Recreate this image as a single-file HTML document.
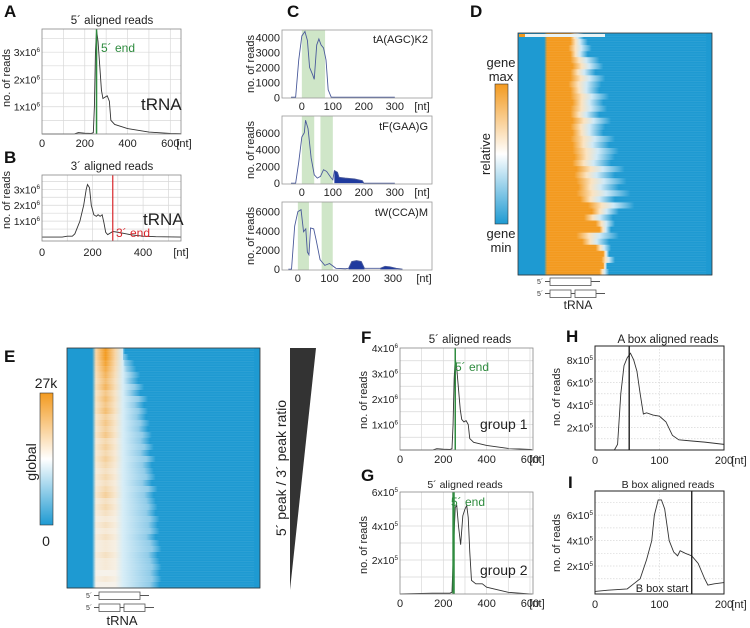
<!DOCTYPE html>
<html><head><meta charset="utf-8"><style>
html,body{margin:0;padding:0;background:#fff}
svg{display:block;font-family:"Liberation Sans",sans-serif}
</style></head><body>
<svg id="fig" width="750" height="628" viewBox="0 0 750 628" xmlns="http://www.w3.org/2000/svg">
<defs>
<linearGradient id="cbar" x1="0" y1="0" x2="0" y2="1">
<stop offset="0" stop-color="#f39a1f"/><stop offset="0.5" stop-color="#ffffff"/><stop offset="1" stop-color="#1e9ad2"/>
</linearGradient>
</defs>
<g id="root"></g>
</svg>
<script>
// ---------- data ----------
const aNt=[0,150,170,200,230,240,245,250,255,262,270,278,285,295,305,315,322,340,400,500,600,650];
const aReads=[0,0,0.05,0.03,0.02,0.05,1.0,3.0,3.8,3.4,2.5,1.6,1.3,1.35,1.4,1.2,0.5,0.35,0.2,0.07,0.02,0.01];
const aEnd=[255];
const bNt=[0,80,100,120,130,150,165,175,180,188,195,205,215,222,230,238,245,252,260,280,300,350,400,450,550];
const bReads=[0,0,0.05,0.05,0.2,1.0,2.0,3.0,3.3,3.1,2.0,1.4,1.3,1.4,1.3,1.4,0.9,0.3,0.15,0.35,0.3,0.15,0.05,0.02,0];
const bEnd=[280];
const c1Nt=[-35,-20,-10,0,10,18,25,35,40,48,55,62,70,78,85,95,300];
const c1Reads=[0,0,2500,4100,4400,3800,2000,1500,1200,3500,3900,3500,3300,2500,500,0,0];
const c1Bands=[[0,75]];
const c2Nt=[-35,-20,-10,0,8,12,20,30,40,50,60,70,80,95,100,105,115,120,140,170,195,200,300];
const c2Reads=[0,0,2500,5500,6000,7500,6500,3000,1000,600,800,1600,1400,600,400,1500,1300,700,600,500,300,0,0];
const c2Bands=[[0,40],[60,100]];
const c2Fill=[[105,200]];
const c3Nt=[-30,-20,-10,0,10,18,25,30,35,40,50,58,70,85,100,120,150,160,170,185,200,210,260,275,290,310,320,330];
const c3Reads=[0,0,4500,6000,6200,3900,4200,1800,1500,4300,4200,3000,1000,400,600,100,50,100,800,900,800,100,100,300,250,100,50,0];
const c3Bands=[[0,35],[75,110]];
const c3Fill=[[155,215],[255,330]];
const fNt=[0,150,170,200,230,240,245,250,255,262,270,278,285,295,305,315,322,340,400,500,600,610];
const fReads=[0,0,0.05,0.03,0.02,0.05,1.0,2.8,3.6,3.2,2.4,1.6,1.2,1.1,1.15,1.0,0.45,0.3,0.18,0.06,0.02,0.01];
const fEnd=[255];
const gNt=[0,150,230,240,248,255,262,270,280,290,300,308,315,322,330,350,380,400,500,600,610];
const gReads=[0,0.05,0.05,0.1,3,5.1,5.2,4,2.9,4.6,5.0,5.2,4.5,2.5,0.8,0.6,0.6,0.4,0.1,0,0];
const gEnd=[245];
const hNt=[0,30,35,40,45,50,55,60,65,70,75,80,90,100,110,120,130,150,170,200];
const hReads=[0,0,0.5,5,7.5,8.2,8.6,8,7,5,3.2,3.3,3.1,3,2.5,1.3,0.9,0.8,0.7,0.5];
const hLine=[53];
const iNt=[0,20,50,60,70,80,88,92,98,103,108,115,122,128,132,140,150,160,170,175,185,200];
const iReads=[0,0.1,0.2,0.6,1,2.5,4,6,7.2,7.2,6.5,4,3.1,2.8,3.2,3,2.8,2.2,1,0.5,0.6,0.7];
const iLine=[150];
// heatmap D rows (fractions of width): orange end, fade end
const dOrange=[.27,.27,.26,.27,.27,.28,.27,.27,.26,.27,.27,.28,.27,.27,.28,.27,.28,.27,.28,.28,.29,.28,.3,.29,.3,.31,.3,.32,.36,.38,.34,.4,.42,.3,.33,.4,.44,.43,.44,.42];
const dFade=[.34,.36,.38,.36,.42,.44,.4,.45,.43,.42,.47,.44,.46,.42,.48,.45,.44,.5,.47,.52,.5,.48,.55,.5,.56,.52,.58,.5,.6,.52,.49,.5,.48,.52,.47,.48,.47,.5,.46,.47];
// heatmap E rows: warmth of peak column (0 white .. 1 orange), fade end
const eWarm=[1,1,.9,.8,.7,.6,.7,.5,.6,.5,.6,.4,.5,.4,.5,.3,.4,.3,.4,.3,.2,.3,.2,.3,.4,.2,.3,.2,.1,.2,.1,.2,.1,.1,.2,.1,.1,0,.1,0];
const eFade=[.3,.32,.35,.36,.38,.37,.4,.38,.42,.4,.42,.41,.43,.42,.44,.43,.45,.43,.46,.44,.45,.46,.44,.47,.45,.46,.47,.46,.48,.47,.48,.46,.48,.49,.47,.48,.49,.48,.49,.48];

// ---------- helpers ----------
const NS="http://www.w3.org/2000/svg";
const root=document.getElementById('root');
function el(tag,attrs,parent,text){const e=document.createElementNS(NS,tag);for(const k in attrs)e.setAttribute(k,attrs[k]);if(text!==undefined)e.textContent=text;(parent||root).appendChild(e);return e;}
function txt(x,y,s,size,opts,name){const t=el('text',Object.assign({x:x,y:y,'font-size':size,fill:'#222'},opts||{}),root,s);

return t;}
function supTxt(x,y,base,sup,size,name){const t=el('text',{x:x,y:y,'font-size':size,fill:'#222','text-anchor':'end'});


el('tspan',{},t,base);el('tspan',{'font-size':size*0.6,dy:-size*0.4},t,sup);return t;}
function vtxt(x,y,s,size,name){const t=el('text',{x:0,y:0,'font-size':size,fill:'#222','text-anchor':'middle',transform:`translate(${x},${y}) rotate(-90)`},root,s);

return t;}
function scale(d0,d1,p0,p1){return v=>p0+(v-d0)/(d1-d0)*(p1-p0);}

function linePlot(c){
  const sx=scale(c.xd[0],c.xd[1],c.x0,c.x1), sy=scale(c.yd[0],c.yd[1],c.y1,c.y0);
  const g=el('g',{});
  
  
  el('rect',{x:c.x0,y:c.y0,width:c.x1-c.x0,height:c.y1-c.y0,fill:'#fff'},g);
  (c.bands||[]).forEach(b=>{const r=el('rect',{x:sx(b[0]),y:c.y0,width:sx(b[1])-sx(b[0]),height:c.y1-c.y0,fill:'#cfe6c8'},g);
    
    });
  const dash=c.dotted?'1.5,1.5':'none';
  (c.gx||[]).forEach(v=>el('line',{x1:sx(v),x2:sx(v),y1:c.y0,y2:c.y1,stroke:'#d8d8d8','stroke-width':0.7,'stroke-dasharray':dash},g));
  (c.gy||[]).forEach(v=>el('line',{x1:c.x0,x2:c.x1,y1:sy(v),y2:sy(v),stroke:'#d8d8d8','stroke-width':0.7,'stroke-dasharray':dash},g));
  const cl=(v,a,b)=>Math.max(a,Math.min(b,v));
  const pts=c.xs.map((x,i)=>[cl(sx(x),c.x0,c.x1),cl(sy(c.ys[i]),c.y0,c.y1)]);
  (c.fill||[]).forEach(f=>{
    const sub=[];c.xs.forEach((x,i)=>{if(x>=f[0]&&x<=f[1])sub.push(pts[i]);});
    if(sub.length){const d='M'+sub[0][0]+','+sy(0)+' L'+sub.map(p=>p.join(',')).join(' L')+' L'+sub[sub.length-1][0]+','+sy(0)+'Z';
      const p=el('path',{d:d,fill:'#1f3a9e'},g);
      
      }
  });
  const path=el('path',{d:'M'+pts.map(p=>p.join(',')).join(' L'),fill:'none',stroke:c.lc||'#333','stroke-width':0.9},g);
  
  
  (c.vlines||[]).forEach(v=>{const l=el('line',{x1:sx(v[0]),x2:sx(v[0]),y1:c.y0,y2:c.y1,stroke:v[1],'stroke-width':v[2]||1.3},g);
    
    });
  el('rect',{x:c.x0,y:c.y0,width:c.x1-c.x0,height:c.y1-c.y0,fill:'none',stroke:c.frame||'#888','stroke-width':c.fw||0.8},g);
  (c.xt||[]).forEach((v,i)=>txt(sx(v),c.y1+c.xtOff,c.xl[i],c.fs||11,{'text-anchor':'middle'},'x-tick-label'));
  if(c.unit)txt(c.unitX,c.y1+c.xtOff,'[nt]',c.fs||11,{'text-anchor':'middle'},'x-axis-unit');
  (c.yt||[]).forEach((v,i)=>{
    if(c.ysup) supTxt(c.x0-2,sy(v)+4,c.yl[i],c.ysup,c.yfs||10.5,'y-tick-label');
    else txt(c.x0-2,sy(v)+4,c.yl[i],c.yfs||11,{'text-anchor':'end'},'y-tick-label');
  });
  return {sx,sy};
}
function panelLabel(x,y,s){txt(x,y,s,17,{'font-weight':'bold',fill:'#111'},'panel-label-'+s.toLowerCase());}

// ---------- Panel A ----------
panelLabel(4,17,'A');
txt(112,24,'5´ aligned reads',11.5,{'text-anchor':'middle'},'panel-a-title');
linePlot({name:'panel-a-chart',x0:42,x1:181,y0:29,y1:134,xd:[0,650],yd:[0,3.85],xs:aNt,ys:aReads,
 gx:[100,200,300,400,500,600],gy:[0.5,1,1.5,2,2.5,3,3.5],xt:[0,200,400,600],xl:['0','200','400','600'],xtOff:13,
 unit:true,unitX:184,yt:[1,2,3],yl:['1x10','2x10','3x10'],ysup:'6',vlines:[[aEnd[0],'#2e8b3e',1.5]]});
vtxt(10,78,'no. of reads',11,'panel-a-y-axis-title');
txt(101,52,'5´ end',12,{fill:'#2e8b3e'},'five-prime-end-label');
txt(141,110,'tRNA',17,{},'trna-label-a');

// ---------- Panel B ----------
panelLabel(4,163,'B');
txt(112,170,'3´ aligned reads',11.5,{'text-anchor':'middle'},'panel-b-title');
linePlot({name:'panel-b-chart',x0:42,x1:181,y0:175,y1:241,xd:[0,550],yd:[-0.25,3.9],xs:bNt,ys:bReads,
 gx:[100,200,300,400,500],gy:[0.5,1,1.5,2,2.5,3,3.5],xt:[0,200,400],xl:['0','200','400'],xtOff:15,
 unit:true,unitX:181,yt:[1,2,3],yl:['1x10','2x10','3x10'],ysup:'6',vlines:[[bEnd[0],'#d9262c',1.2]]});
vtxt(10,200,'no. of reads',11,'panel-b-y-axis-title');
txt(143,225,'tRNA',17,{},'trna-label-b');
txt(116,237,'3´ end',12,{fill:'#d9262c'},'three-prime-end-label');

// ---------- Panel C ----------
panelLabel(287,17,'C');
const cTicks=[0,100,200,300], cLab=['0','100','200','300'];
linePlot({name:'panel-c-tA-chart',x0:282,x1:432,y0:30,y1:98,xd:[-64,420],yd:[-50,4500],xs:c1Nt,ys:c1Reads,bands:c1Bands,lc:'#4a5a9a',frame:'#999',
 xt:cTicks,xl:cLab,xtOff:12,unit:true,unitX:422,yt:[0,1000,2000,3000,4000],yl:['0','1000','2000','3000','4000'],fs:11});
txt(428,43,'tA(AGC)K2',11,{'text-anchor':'end'},'trna-name-ta');
linePlot({name:'panel-c-tF-chart',x0:282,x1:432,y0:116,y1:184,xd:[-64,420],yd:[-100,8000],xs:c2Nt,ys:c2Reads,bands:c2Bands,fill:c2Fill,lc:'#4a5a9a',frame:'#999',
 xt:cTicks,xl:cLab,xtOff:12,unit:true,unitX:422,yt:[0,2000,4000,6000],yl:['0','2000','4000','6000'],fs:11});
txt(428,130,'tF(GAA)G',11,{'text-anchor':'end'},'trna-name-tf');
linePlot({name:'panel-c-tW-chart',x0:282,x1:432,y0:202,y1:270,xd:[-50,423],yd:[-80,7000],xs:c3Nt,ys:c3Reads,bands:c3Bands,fill:c3Fill,lc:'#4a5a9a',frame:'#999',
 xt:cTicks,xl:cLab,xtOff:12,unit:true,unitX:424,yt:[0,2000,4000,6000],yl:['0','2000','4000','6000'],fs:11});
txt(428,216,'tW(CCA)M',11,{'text-anchor':'end'},'trna-name-tw');
vtxt(254,64,'no. of reads',11,'panel-c-y-title-1');
vtxt(254,150,'no. of reads',11,'panel-c-y-title-2');
vtxt(254,236,'no. of reads',11,'panel-c-y-title-3');

// ---------- heatmap helpers ----------
const OR='#f39a1f', BL='#1e9ad2';
function mix(a,b,t){const pa=[1,3,5].map(i=>parseInt(a.substr(i,2),16)),pb=[1,3,5].map(i=>parseInt(b.substr(i,2),16));
 return 'rgb('+pa.map((v,i)=>Math.round(v+(pb[i]-v)*t)).join(',')+')';}
function heatmapRows(x0,y0,w,h,n,stopsFn,name){
  const g=el('g',{});
  
  
  el('rect',{x:x0,y:y0,width:w,height:h,fill:BL},g);
  const rh=h/n;
  for(let i=0;i<n;i++){
    const id=name+'-g'+i;
    const lg=el('linearGradient',{id:id,x1:0,y1:0,x2:1,y2:0},document.querySelector('defs'));
    stopsFn(i).forEach(st=>el('stop',{offset:st[0],'stop-color':st[1]},lg));
    const r=el('rect',{x:x0,y:y0+i*rh,width:w,height:rh+0.4,fill:`url(#${id})`},g);
    
    
  }
  for(let k=0;k<h;k+=2.5){el('line',{x1:x0+w*0.14,x2:x0+w*0.97,y1:y0+k+1,y2:y0+k+1,stroke:'rgba(255,255,255,0.13)','stroke-width':0.5},g);}
  el('rect',{x:x0,y:y0,width:w,height:h,fill:'none',stroke:'#333','stroke-width':0.8},g);
}
function geneDiagram(x,y,name){
  const g=el('g',{});
  
  
  el('text',{x:x-12,y:y+6,'font-size':7,fill:'#333'},g,'5´');
  el('line',{x1:x-4,x2:x+1,y1:y+3.5,y2:y+3.5,stroke:'#555'},g);
  el('rect',{x:x+1,y:y,width:41,height:7.5,fill:'#fff',stroke:'#555','stroke-width':0.8},g);
  el('line',{x1:x+42,x2:x+51,y1:y+3.5,y2:y+3.5,stroke:'#555'},g);
  el('text',{x:x-12,y:y+18,'font-size':7,fill:'#333'},g,'5´');
  el('line',{x1:x-4,x2:x+1,y1:y+15.5,y2:y+15.5,stroke:'#555'},g);
  el('rect',{x:x+1,y:y+12,width:21,height:7.5,fill:'#fff',stroke:'#555','stroke-width':0.8},g);
  el('line',{x1:x+22,x2:x+26,y1:y+15.5,y2:y+15.5,stroke:'#555'},g);
  el('rect',{x:x+26,y:y+12,width:21,height:7.5,fill:'#fff',stroke:'#555','stroke-width':0.8},g);
  el('line',{x1:x+47,x2:x+56,y1:y+15.5,y2:y+15.5,stroke:'#555'},g);
}

// ---------- Panel D ----------
panelLabel(470,17,'D');
heatmapRows(518,33,194,242,dOrange.length,i=>{const o=dOrange[i],f=dFade[i];return [[0,BL],[0.135,BL],[0.15,OR],[o,OR],[o+(f-o)*0.3,'#fbe3c0'],[o+(f-o)*0.55,'#cfe9f6'],[f,BL],[1,BL]];},'panel-d-heatmap');
el('rect',{x:519,y:34,width:6,height:3,fill:OR});
el('rect',{x:525,y:34,width:80,height:3,fill:'#e9f3f5'});
const cbD=el('rect',{x:495,y:84,width:13,height:140,fill:'url(#cbar)',stroke:'#333','stroke-width':0.6});


txt(501,67,'gene',13,{'text-anchor':'middle'},'colorbar-gene-max-1');
txt(501,81,'max',13,{'text-anchor':'middle'},'colorbar-gene-max-2');
txt(501,238,'gene',13,{'text-anchor':'middle'},'colorbar-gene-min-1');
txt(501,252,'min',13,{'text-anchor':'middle'},'colorbar-gene-min-2');
vtxt(490,154,'relative',13,'colorbar-relative-title');
geneDiagram(549,278,'panel-d-gene-diagram');
txt(578,309,'tRNA',12,{'text-anchor':'middle'},'panel-d-trna-label');

// ---------- Panel E ----------
panelLabel(4,362,'E');
heatmapRows(67,348,193,240,eWarm.length,i=>{const w=eWarm[i],f=eFade[i];const peak=mix('#f6f2ea',OR,w);const side=mix('#f6f2ea','#f9c987',w*0.7);
 return [[0,BL],[0.13,BL],[0.15,side],[0.2,peak],[0.25,side],[0.29,'#d6edf7'],[f-0.05,'#8fcbe8'],[f,BL],[1,BL]];},'panel-e-heatmap');
const cbE=el('rect',{x:40,y:393,width:13,height:132,fill:'url(#cbar)',stroke:'#333','stroke-width':0.6});


txt(46,388,'27k',14,{'text-anchor':'middle'},'colorbar-max-label');
txt(46,546,'0',14,{'text-anchor':'middle'},'colorbar-min-label');
vtxt(36,462,'global',14,'colorbar-global-title');
const tri=el('polygon',{points:'290,348 316,348 290,590',fill:'#333'});


vtxt(286,468,'5´ peak / 3´ peak ratio',14,'ratio-axis-title');
geneDiagram(98,592,'panel-e-gene-diagram');
txt(122,625,'tRNA',13,{'text-anchor':'middle'},'panel-e-trna-label');

// ---------- Panel F ----------
panelLabel(361,343,'F');
txt(470,343,'5´ aligned reads',11.5,{'text-anchor':'middle'},'panel-f-title');
linePlot({name:'panel-f-chart',x0:400,x1:533,y0:348,y1:450,xd:[0,614],yd:[0,4],xs:fNt,ys:fReads,
 gx:[100,200,300,400,500,600],gy:[0.5,1,1.5,2,2.5,3,3.5],xt:[0,200,400,600],xl:['0','200','400','600'],xtOff:13,
 unit:true,unitX:537,yt:[1,2,3,4],yl:['1x10','2x10','3x10','4x10'],ysup:'6',vlines:[[fEnd[0],'#2e8b3e',1.5]]});
vtxt(367,400,'no. of reads',11,'panel-f-y-axis-title');
txt(455,371,'5´ end',12,{fill:'#2e8b3e'},'panel-f-five-prime-end');
txt(480,429,'group 1',14,{},'group-1-label');

// ---------- Panel G ----------
panelLabel(361,481,'G');
txt(465,488,'5´ aligned reads',10.5,{'text-anchor':'middle'},'panel-g-title');
linePlot({name:'panel-g-chart',x0:400,x1:533,y0:492,y1:594,xd:[0,614],yd:[0,6],xs:gNt,ys:gReads,
 gx:[100,200,300,400,500,600],gy:[1,2,3,4,5],xt:[0,200,400,600],xl:['0','200','400','600'],xtOff:13,
 unit:true,unitX:537,yt:[2,4,6],yl:['2x10','4x10','6x10'],ysup:'5',vlines:[[gEnd[0],'#2e8b3e',1.5],[gEnd[0]+5,'#2e8b3e',1.2]]});
vtxt(367,545,'no. of reads',11,'panel-g-y-axis-title');
txt(451,506,'5´ end',12,{fill:'#2e8b3e'},'panel-g-five-prime-end');
txt(480,575,'group 2',14,{},'group-2-label');

// ---------- Panel H ----------
panelLabel(566,342,'H');
txt(668,343,'A box aligned reads',11.5,{'text-anchor':'middle'},'panel-h-title');
linePlot({name:'panel-h-chart',x0:595,x1:724,y0:346,y1:450,xd:[0,200],yd:[0,9.24],xs:hNt,ys:hReads,dotted:true,
 gx:[100],gy:[1,2,3,4,5,6,7,8],xt:[0,100,200],xl:['0','100','200'],xtOff:14,unit:true,unitX:739,
 yt:[2,4,6,8],yl:['2x10','4x10','6x10','8x10'],ysup:'5',vlines:[[hLine[0],'#111',1.3]],frame:'#222',fw:1});
vtxt(560,397,'no. of reads',11,'panel-h-y-axis-title');

// ---------- Panel I ----------
panelLabel(568,488,'I');
txt(668,488,'B box aligned reads',10.5,{'text-anchor':'middle'},'panel-i-title');
linePlot({name:'panel-i-chart',x0:595,x1:724,y0:491,y1:594,xd:[0,200],yd:[-0.2,7.9],xs:iNt,ys:iReads,dotted:true,
 gx:[100],gy:[1,2,3,4,5,6,7],xt:[0,100,200],xl:['0','100','200'],xtOff:14,unit:true,unitX:739,
 yt:[2,4,6],yl:['2x10','4x10','6x10'],ysup:'5',vlines:[[iLine[0],'#111',1.3]],frame:'#222',fw:1});
vtxt(560,543,'no. of reads',11,'panel-i-y-axis-title');
txt(662,592,'B box start',11,{'text-anchor':'middle'},'b-box-start-label');
</script>
</body></html>
